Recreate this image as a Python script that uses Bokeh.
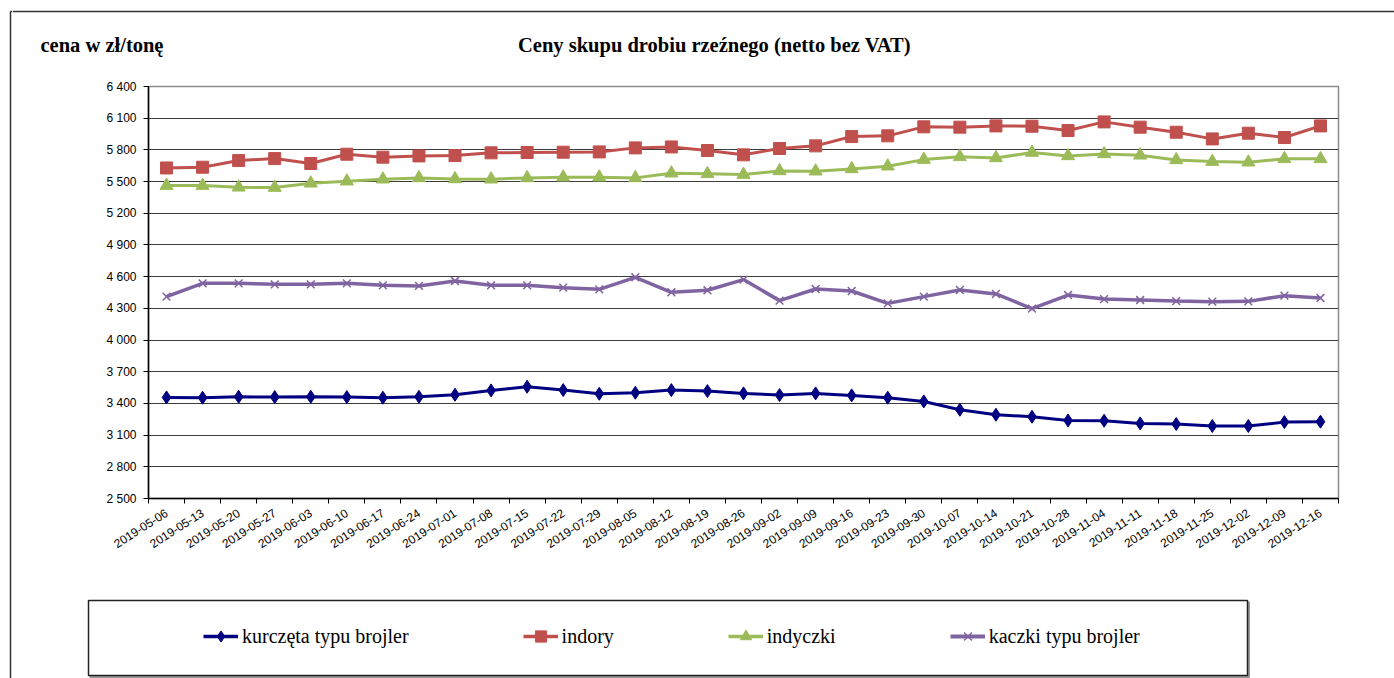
from bokeh.plotting import figure
from bokeh.layouts import row, column
from bokeh.models import (FixedTicker, CustomJSTickFormatter, Legend, LegendItem,
                          Label, ColumnDataSource, Range1d)
from bokeh.embed import file_html
from bokeh.resources import INLINE

dates = ["2019-05-06", "2019-05-13", "2019-05-20", "2019-05-27", "2019-06-03",
         "2019-06-10", "2019-06-17", "2019-06-24", "2019-07-01", "2019-07-08",
         "2019-07-15", "2019-07-22", "2019-07-29", "2019-08-05", "2019-08-12",
         "2019-08-19", "2019-08-26", "2019-09-02", "2019-09-09", "2019-09-16",
         "2019-09-23", "2019-09-30", "2019-10-07", "2019-10-14", "2019-10-21",
         "2019-10-28", "2019-11-04", "2019-11-11", "2019-11-18", "2019-11-25",
         "2019-12-02", "2019-12-09", "2019-12-16"]

kurczeta = [3457, 3454, 3463, 3460, 3463, 3460, 3454, 3463, 3482, 3523,
            3558, 3526, 3491, 3501, 3526, 3517, 3495, 3479, 3495, 3476,
            3454, 3419, 3340, 3293, 3274, 3239, 3236, 3211, 3205, 3186,
            3186, 3223, 3227]
indory = [5629, 5636, 5699, 5718, 5671, 5759, 5731, 5743, 5746, 5772,
          5775, 5778, 5781, 5819, 5828, 5794, 5753, 5813, 5838, 5926,
          5933, 6018, 6015, 6027, 6024, 5983, 6065, 6015, 5967, 5904,
          5958, 5917, 6027]
indyczki = [5462, 5462, 5446, 5443, 5484, 5503, 5522, 5535, 5525, 5522,
            5535, 5541, 5541, 5535, 5579, 5573, 5566, 5601, 5598, 5620,
            5645, 5708, 5734, 5724, 5775, 5743, 5762, 5749, 5705, 5689,
            5683, 5715, 5715]
kaczki = [4411, 4537, 4537, 4527, 4527, 4537, 4518, 4512, 4559, 4518,
          4518, 4496, 4480, 4594, 4452, 4471, 4572, 4373, 4483, 4464,
          4347, 4411, 4474, 4436, 4297, 4426, 4388, 4379, 4369, 4363,
          4366, 4420, 4398]

series_names = ["kurczęta typu brojler", "indory", "indyczki", "kaczki typu brojler"]
y_ticks = list(range(2500, 6401, 300))
title_text = "Ceny skupu drobiu rzeźnego (netto bez VAT)"
unit_text = "cena w zł/tonę"

# ---- page geometry (pixels) ----
W, H = 1394, 678
STRIP = 12            # left strip carrying the outer frame line
HEAD_H = 78           # header band
MAIN_H = 512          # chart band
LEG_H = H - HEAD_H - MAIN_H
FRAME_L, FRAME_R, FRAME_T, FRAME_B = 148, 1338, 86, 498
LINE_C = "#333333"


def blank(width, height, xr, yr):
    f = figure(width=width, height=height, output_backend="svg",
               toolbar_location=None, x_axis_type=None, y_axis_type=None,
               x_range=Range1d(*xr), y_range=Range1d(*yr),
               min_border=0, min_border_left=0, min_border_right=0,
               min_border_top=0, min_border_bottom=0,
               background_fill_color="white", border_fill_color="white")
    f.outline_line_color = None
    f.grid.visible = False
    return f


# ---- left strip with the outer frame line ----
strip = blank(STRIP, H, (0, STRIP), (H, 0))
strip.segment(x0=[10, 10], y0=[11, 11], x1=[10, STRIP], y1=[H, 11],
              line_color=LINE_C, line_width=1.5)

# ---- header ----
head = blank(W - STRIP, HEAD_H, (STRIP, W), (HEAD_H, 0))
head.segment(x0=[STRIP], y0=[11], x1=[W], y1=[11], line_color=LINE_C, line_width=1.5)
head.add_layout(Label(x=714, y=44, text=title_text, text_align="center",
                      text_baseline="middle", text_font="Liberation Serif",
                      text_font_style="bold", text_font_size="20.5px",
                      text_color="black"))
head.add_layout(Label(x=40, y=44, text=unit_text, text_align="left",
                      text_baseline="middle", text_font="Liberation Serif",
                      text_font_style="bold", text_font_size="20.5px",
                      text_color="black"))

# ---- main chart ----
p = figure(width=W - STRIP, height=MAIN_H, output_backend="svg", toolbar_location=None,
           x_range=(0, len(dates)), y_range=(y_ticks[0], y_ticks[-1]),
           min_border_left=FRAME_L - STRIP, min_border_right=W - FRAME_R,
           min_border_top=FRAME_T - HEAD_H,
           min_border_bottom=MAIN_H - (FRAME_B - HEAD_H),
           background_fill_color="white", border_fill_color="white")

xs = [i + 0.5 for i in range(len(dates))]
src = ColumnDataSource(dict(x=xs, k=kurczeta, i=indory, d=indyczki, c=kaczki))

styles = [
    ("k", "#000080", "diamond", 13, 3),
    ("i", "#C0504D", "square", 12, 3),
    ("d", "#9BBB59", "triangle", 13, 3),
    ("c", "#8064A2", "x", 11, 3.5),
]
for col, color, marker, size, lw in styles:
    p.line("x", col, source=src, line_color=color, line_width=lw)
    if marker == "x":
        p.scatter("x", col, source=src, marker=marker, size=size,
                  line_color=color, line_width=1.5)
    else:
        p.scatter("x", col, source=src, marker=marker, size=size,
                  fill_color=color, line_color=color, line_width=1)

p.xaxis.ticker = FixedTicker(ticks=xs, minor_ticks=list(range(len(dates) + 1)))
p.xaxis.formatter = CustomJSTickFormatter(args=dict(labels=dates), code="""
const i = Math.round(tick - 0.5);
return (i >= 0 && i < labels.length) ? labels[i] : '';
""")
p.xaxis.major_label_orientation = 0.57
p.xaxis.major_tick_line_color = None
p.xaxis.major_tick_out = 0
p.xaxis.major_tick_in = 0
p.xaxis.minor_tick_line_color = "black"
p.xaxis.minor_tick_out = 5
p.xaxis.minor_tick_in = 0
p.xaxis.major_label_standoff = 8
p.xaxis.major_label_text_font = "Liberation Sans"
p.xaxis.major_label_text_font_size = "12px"
p.xaxis.major_label_text_color = "black"
p.xaxis.axis_line_color = "black"
p.xaxis.axis_line_width = 1.5

p.yaxis.ticker = FixedTicker(ticks=y_ticks)
p.yaxis.formatter = CustomJSTickFormatter(code="""
const s = Math.round(tick).toString();
return s.length > 3 ? s.slice(0, -3) + ' ' + s.slice(-3) : s;
""")
p.yaxis.major_tick_out = 5
p.yaxis.major_tick_in = 0
p.yaxis.major_tick_line_color = "black"
p.yaxis.minor_tick_line_color = None
p.yaxis.major_label_standoff = 7
p.yaxis.major_label_text_font = "Liberation Sans"
p.yaxis.major_label_text_font_size = "12px"
p.yaxis.major_label_text_color = "black"
p.yaxis.axis_line_color = "black"
p.yaxis.axis_line_width = 1.5

p.xgrid.visible = False
p.ygrid.grid_line_color = "#3c3c3c"
p.ygrid.grid_line_width = 1
p.outline_line_color = "#8c8c8c"
p.outline_line_width = 1.5

# ---- legend band ----
top_y = HEAD_H + MAIN_H
leg = blank(W - STRIP, LEG_H, (STRIP, W), (H, top_y))
BOX_L, BOX_R, BOX_T, BOX_B = 88, 1247, 600, 675
leg.segment(x0=[BOX_R + 1.5, BOX_L + 1], y0=[BOX_T + 1, BOX_B + 1.5],
            x1=[BOX_R + 1.5, BOX_R + 2.5], y1=[BOX_B + 2.5, BOX_B + 1.5],
            line_color="#9a9a9a", line_width=2)
leg.quad(left=[BOX_L], right=[BOX_R], top=[BOX_T], bottom=[BOX_B],
         fill_alpha=0, line_color="#222222", line_width=1.5)

# legend swatches: renderers in this band whose single point sits off-screen
off = dict(x=[-1000], y=[-1000])
items = []
for (col, color, marker, size, lw), name in zip(styles, series_names):
    lr = leg.line(x=off["x"], y=off["y"], line_color=color, line_width=lw + 0.5)
    if marker == "x":
        sr = leg.scatter(x=off["x"], y=off["y"], marker=marker, size=size,
                         line_color=color, line_width=1.5)
    else:
        sr = leg.scatter(x=off["x"], y=off["y"], marker=marker, size=size,
                         fill_color=color, line_color=color, line_width=1)
    items.append(LegendItem(label=name, renderers=[lr, sr]))

legend = Legend(items=items, location=(203 - STRIP, H - 650),
                orientation="horizontal", spacing=114, padding=0, margin=0,
                glyph_width=35, glyph_height=28, label_standoff=4,
                label_text_font="Liberation Serif", label_text_font_size="20px",
                label_text_color="black", border_line_color=None,
                background_fill_alpha=0)
leg.add_layout(legend)

layout = row(strip, column(row(head), row(p), row(leg), spacing=0), spacing=0)
open("out.html", "w").write(file_html(layout, INLINE))
